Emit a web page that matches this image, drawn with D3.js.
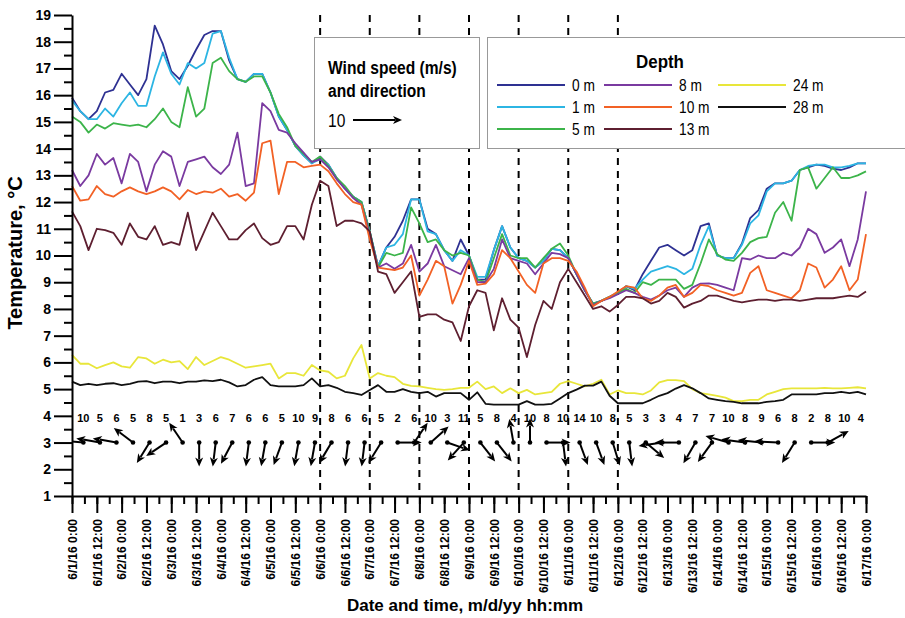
<!DOCTYPE html>
<html>
<head>
<meta charset="utf-8">
<script src="https://cdn.jsdelivr.net/npm/d3@7"></script>
<style>
  body { margin: 0; background: #fff; }
  svg { font-family: "Liberation Sans", Arial, sans-serif; }
</style>
</head>
<body>
<div id="chart"></div>
<script>
// water temperature, one reading every 4 hours from 6/1/16 0:00 to 6/17/16 0:00
const hours = d3.range(0, 385, 4)

const t0m = [15.9, 15.4, 15.1, 15.4, 16.1, 16.2, 16.8, 16.4, 16.0, 16.6,
  18.6, 17.9, 16.9, 16.6, 17.1, 17.7, 18.25, 18.4, 18.4, 17.3,
  16.6, 16.5, 16.8, 16.8, 16.1, 15.2, 14.7, 14.1, 13.75, 13.45,
  13.7, 13.4, 12.9, 12.5, 12.2, 12.0, 10.9, 9.6, 10.3, 10.7,
  11.3, 12.1, 12.1, 11.0, 10.8, 10.2, 9.8, 10.6, 10.0, 9.1,
  9.1, 10.2, 11.1, 10.3, 9.9, 9.8, 9.55, 9.8, 10.25, 10.2,
  9.9, 9.3, 8.7, 8.2, 8.3, 8.45, 8.6, 8.85, 8.7, 9.3,
  9.8, 10.3, 10.4, 10.2, 10.0, 10.2, 11.1, 11.2, 10.0, 9.9,
  9.9, 10.45, 11.4, 11.7, 12.5, 12.7, 12.7, 12.8, 13.2, 13.3,
  13.4, 13.35, 13.25, 13.2, 13.3, 13.45, 13.45]
const t1m = [15.8, 15.4, 15.1, 15.1, 15.5, 15.2, 15.7, 16.1, 15.6, 15.6,
  16.7, 17.6, 16.8, 16.4, 17.2, 17.0, 17.2, 18.3, 18.4, 17.4,
  16.6, 16.5, 16.8, 16.8, 16.1, 15.2, 14.7, 14.1, 13.75, 13.45,
  13.6, 13.4, 12.9, 12.5, 12.2, 12.0, 10.9, 9.6, 10.3, 10.4,
  10.8, 12.1, 12.1, 10.9, 10.8, 10.2, 9.8, 10.2, 10.0, 9.2,
  9.2, 10.2, 11.1, 10.3, 9.9, 9.8, 9.55, 9.8, 10.25, 10.2,
  9.9, 9.3, 8.7, 8.2, 8.3, 8.45, 8.6, 8.85, 8.75, 9.1,
  9.4, 9.5, 9.6, 9.5, 9.3, 9.5, 10.4, 11.1, 10.0, 9.9,
  9.9, 10.4, 11.2, 11.5, 12.4, 12.7, 12.7, 12.8, 13.2, 13.35,
  13.4, 13.4, 13.3, 13.3, 13.35, 13.45, 13.45]
const t5m = [15.2, 15.0, 14.6, 14.9, 14.75, 14.95, 14.9, 14.85, 14.9, 14.8,
  15.1, 15.5, 15.0, 14.8, 16.3, 15.2, 15.5, 17.2, 17.4, 16.9,
  16.6, 16.5, 16.7, 16.7, 16.1, 15.3, 14.8, 14.1, 13.8, 13.5,
  13.7, 13.35, 12.9, 12.6, 12.2, 12.0, 10.9, 9.55, 10.1, 10.0,
  10.1, 11.8, 11.2, 10.5, 10.6, 10.2, 10.0, 10.1, 10.0, 9.1,
  9.0, 9.9, 10.8, 10.0, 9.9, 9.9, 9.55, 9.9, 10.25, 10.45,
  10.0, 9.3, 8.7, 8.2, 8.3, 8.45, 8.6, 8.75, 8.6, 9.0,
  8.9, 9.1, 9.1, 9.1, 8.75, 8.9, 9.7, 10.6, 10.05, 9.85,
  9.8, 10.1, 10.5, 10.65, 10.7, 11.6, 12.0, 11.3, 13.2, 13.3,
  12.5, 12.9, 13.3, 12.9, 12.9, 13.0, 13.15]
const t8m = [13.2, 12.6, 13.0, 13.8, 13.4, 13.65, 12.7, 13.8, 13.5, 12.4,
  13.4, 13.9, 13.7, 12.6, 13.5, 13.6, 13.7, 13.3, 13.05, 13.4,
  14.6, 12.6, 12.7, 15.7, 15.4, 14.7, 14.6, 14.2, 13.85, 13.5,
  13.6, 13.3, 12.85, 12.5, 12.15, 11.9, 10.8, 9.55, 9.7, 9.5,
  9.7, 10.4, 9.4, 9.7, 10.4, 9.6, 9.45, 9.3, 9.9, 9.0,
  9.0, 9.5, 10.6, 9.9, 9.8, 9.7, 9.3, 9.7, 10.1, 10.05,
  9.9, 9.3, 8.7, 8.15, 8.3, 8.4, 8.55, 8.7, 8.6, 8.45,
  8.35, 8.5, 8.7, 8.8, 8.45, 8.8, 8.95, 8.96, 8.9, 8.8,
  8.7, 9.9, 9.85, 10.0, 9.9, 9.9, 10.1, 10.0, 10.3, 11.0,
  10.8, 10.1, 10.3, 10.6, 9.6, 10.6, 12.4]
const t10m = [12.6, 12.05, 12.1, 12.6, 12.3, 12.2, 12.4, 12.55, 12.4, 12.3,
  12.4, 12.55, 12.4, 12.1, 12.45, 12.3, 12.4, 12.35, 12.5, 12.2,
  12.3, 12.05, 12.35, 14.2, 14.3, 12.3, 13.5, 13.5, 13.3, 13.35,
  13.4, 13.15, 12.7, 12.3, 12.0, 11.9, 10.6, 9.55, 9.5, 9.45,
  9.55, 10.0, 8.5, 9.1, 9.8, 9.6, 8.2, 8.9, 9.8, 8.9,
  8.95, 9.3, 10.2, 9.9, 9.4, 8.9, 8.6, 9.7, 9.9, 9.9,
  9.8, 9.4, 8.8, 8.1, 8.3, 8.45, 8.65, 8.85, 8.8, 8.4,
  8.3, 8.5, 8.8, 8.9, 8.45, 8.6, 8.9, 8.85, 8.7, 8.6,
  8.5, 8.6, 9.35, 9.6, 8.7, 8.6, 8.5, 8.4, 8.7, 9.7,
  9.55, 8.8, 9.1, 9.6, 8.7, 9.1, 10.8]
const t13m = [11.65, 11.1, 10.2, 11.0, 10.95, 10.85, 10.4, 11.2, 10.7, 10.6,
  11.1, 10.4, 10.5, 10.4, 11.6, 10.2, 10.9, 11.6, 11.1, 10.6,
  10.6, 10.95, 11.2, 10.65, 10.4, 10.5, 11.1, 11.1, 10.6, 11.9,
  12.8, 12.6, 11.1, 11.3, 11.3, 11.2, 10.9, 9.4, 9.3, 8.6,
  9.0, 9.4, 7.7, 7.8, 7.8, 7.6, 7.5, 6.8, 8.1, 8.7,
  8.6, 7.2, 8.4, 7.6, 7.3, 6.2, 7.4, 8.3, 8.0, 9.0,
  9.5, 9.0, 8.5, 8.0, 8.1, 7.9, 8.15, 8.45, 8.45, 8.4,
  8.2, 8.3, 8.6, 8.45, 8.05, 8.2, 8.3, 8.5, 8.5, 8.4,
  8.3, 8.25, 8.3, 8.35, 8.35, 8.3, 8.35, 8.35, 8.3, 8.35,
  8.4, 8.4, 8.4, 8.45, 8.5, 8.45, 8.65]
const t24m = [6.28, 5.95, 5.95, 5.78, 5.9, 6.0, 5.85, 5.8, 6.2, 6.15,
  5.95, 6.1, 6.0, 6.05, 5.75, 6.2, 5.9, 6.05, 6.2, 6.1,
  5.95, 5.8, 5.85, 5.9, 5.95, 5.4, 5.6, 5.6, 5.5, 5.9,
  5.7, 5.65, 5.4, 5.5, 6.15, 6.65, 5.4, 5.6, 5.5, 5.45,
  5.2, 5.12, 5.1, 5.05, 5.0, 4.97, 5.0, 5.05, 5.05, 5.28,
  5.0, 5.1, 4.85, 5.03, 4.85, 4.97, 4.8, 4.85, 4.9, 5.2,
  5.3, 5.2, 5.1, 5.2, 5.35, 4.8, 4.95, 4.85, 4.85, 4.8,
  4.95, 5.25, 5.34, 5.34, 5.3, 5.0, 4.85, 4.8, 4.75, 4.68,
  4.55, 4.55, 4.6, 4.6, 4.8, 4.9, 5.0, 5.03, 5.03, 5.03,
  5.03, 5.05, 5.03, 5.03, 5.05, 5.07, 5.03]
const t28m = [5.28, 5.15, 5.2, 5.15, 5.2, 5.22, 5.15, 5.2, 5.28, 5.3,
  5.22, 5.28, 5.28, 5.22, 5.28, 5.28, 5.33, 5.3, 5.35, 5.25,
  5.1, 5.15, 5.35, 5.45, 5.15, 5.1, 5.1, 5.1, 5.15, 5.4,
  5.1, 5.15, 5.05, 4.9, 4.85, 4.78, 4.97, 5.15, 4.9, 4.9,
  5.0, 4.9, 4.85, 4.9, 4.72, 4.85, 4.85, 4.85, 4.6, 4.88,
  4.45, 4.42, 4.42, 4.42, 4.42, 4.55, 4.42, 4.42, 4.45, 4.65,
  4.85, 4.98, 5.13, 5.13, 5.28, 4.75, 4.47, 4.47, 4.47, 4.47,
  4.6, 4.75, 4.85, 5.02, 5.15, 5.03, 4.85, 4.65, 4.6, 4.55,
  4.52, 4.47, 4.47, 4.47, 4.52, 4.55, 4.6, 4.8, 4.8, 4.8,
  4.8, 4.85, 4.85, 4.9, 4.85, 4.9, 4.8]

const depths = ['0 m', '1 m', '5 m', '8 m', '10 m', '13 m', '24 m', '28 m']
const colors = ['#2e3192', '#2cb5e3', '#3cb44a', '#7a3aa0', '#f26125', '#5e1f30', '#e8e63a', '#111111']
const series = [t0m, t1m, t5m, t8m, t10m, t13m, t24m, t28m]

// wind every 8 hours: speed in m/s, direction the wind blows towards (deg, 0 = up)
const windHours = d3.range(5.5, 384, 8)
const windSpeed = [10, 5, 6, 5, 8, 5, 1, 3, 6, 7, 6, 6, 5, 10, 9, 8, 6, 6, 5, 2, 6, 10, 3, 11,
  5, 8, 4, 10, 8, 10, 14, 10, 8, 5, 3, 3, 4, 7, 7, 10, 8, 9, 6, 8, 2, 8, 10, 4]
const windDir = [275, 280, 280, 307, 212, 236, 326, 180, 187, 208, 187, 190, 200, 190, 190, 211,
  187, 187, 212, 90, 34, 48, 109, 222, 142, 142, 350, 0, 90, 173, 160, 160,
  163, 173, 130, 262, 270, 210, 216, 286, 278, 276, 273, 212, 90, 61, null, null]

const markedDays = [6, 7, 8, 9, 10, 11, 12]
const yTicks = d3.range(1, 20)
const yMinor = d3.range(1.5, 19, 1)

const start = new Date(2016, 5, 1)
const at = h => new Date(start.getTime() + h * 36e5)

const x = d3.scaleTime().domain([start, at(384)]).range([72, 866])
const y = d3.scaleLinear().domain([1, 19]).range([496, 15])

const svg = d3.select('#chart').append('svg')
  .attr('width', 905)
  .attr('height', 618)

svg.append('clipPath').attr('id', 'plot')
  .append('rect')
  .attr('x', 72).attr('y', 0).attr('width', 794).attr('height', 496)

// dashed day markers
svg.append('g')
  .selectAll('line')
  .data(markedDays)
  .join('line')
  .attr('x1', d => x(new Date(2016, 5, d)))
  .attr('x2', d => x(new Date(2016, 5, d)))
  .attr('y1', y(19))
  .attr('y2', y(1))
  .attr('stroke', '#000')
  .attr('stroke-width', 2)
  .attr('stroke-dasharray', '7,6')

const line = d3.line()
  .x((d, i) => x(at(hours[i])))
  .y(d => y(d))

svg.append('g')
  .selectAll('path')
  .data(series)
  .join('path')
  .attr('d', line)
  .attr('fill', 'none')
  .attr('stroke', (d, i) => colors[i])
  .attr('stroke-width', 1.8)
  .attr('stroke-linejoin', 'round')

// arrow from a tail point, screen length len, direction deg
const arrow = (g, x0, y0, deg, len) => {
  const a = deg * Math.PI / 180
  const ux = Math.sin(a), uy = -Math.cos(a)
  const tx = x0 + ux * len, ty = y0 + uy * len
  const bx = tx - ux * 9, by = ty - uy * 9
  g.append('line')
    .attr('x1', x0).attr('y1', y0)
    .attr('x2', bx + ux * 2).attr('y2', by + uy * 2)
    .attr('stroke', '#000')
    .attr('stroke-width', 2)
  g.append('path')
    .attr('d', `M${tx},${ty}L${bx - uy * 4},${by + ux * 4}L${bx + ux * 2.5},${by + uy * 2.5}L${bx + uy * 4},${by - ux * 4}Z`)
    .attr('fill', '#000')
}

const windData = windHours.map((h, i) => ({ h, speed: windSpeed[i], dir: windDir[i] }))
const wind = svg.append('g').attr('clip-path', 'url(#plot)')

wind.selectAll('text')
  .data(windData)
  .join('text')
  .attr('x', d => x(at(d.h)))
  .attr('y', 422)
  .attr('text-anchor', 'middle')
  .attr('font-size', 11)
  .attr('font-weight', 'bold')
  .text(d => d.speed)

windData.filter(d => d.dir !== null).forEach(d => {
  const g = wind.append('g')
  arrow(g, x(at(d.h)), y(3), d.dir, 24)
  g.append('circle')
    .attr('cx', x(at(d.h)))
    .attr('cy', y(3))
    .attr('r', 2.3)
})

// axes
const yAxis = svg.append('g')
  .attr('transform', 'translate(72,0)')
  .call(d3.axisLeft(y).tickValues(yTicks).tickSize(18).tickSizeOuter(0).tickPadding(3).tickFormat(d3.format('d')))
yAxis.append('g')
  .call(d3.axisLeft(y).tickValues(yMinor).tickSize(8).tickFormat(''))
  .call(g => g.select('.domain').remove())

const xAxis = svg.append('g')
  .attr('transform', 'translate(0,496)')
  .call(d3.axisBottom(x).ticks(d3.timeHour.every(12)).tickSize(17).tickSizeOuter(0)
    .tickFormat(d3.timeFormat('%-m/%-d/%y %-H:%M')))
xAxis.append('g')
  .call(d3.axisBottom(x).ticks(d3.timeHour.every(6)).tickSize(8).tickFormat(''))
  .call(g => g.select('.domain').remove())
xAxis.selectAll('text')
  .attr('transform', 'rotate(-90)')
  .attr('text-anchor', 'end')
  .attr('x', -23)
  .attr('y', 0)
  .attr('dy', '0.35em')

svg.selectAll('.domain, .tick line').attr('stroke', '#000').attr('stroke-width', 2)
svg.selectAll('.tick text')
  .attr('fill', '#000')
  .attr('font-family', '"Liberation Sans", Arial, sans-serif')
  .attr('font-weight', 'bold')
  .attr('font-size', 12)
yAxis.selectAll('.tick text').attr('font-size', 14)

svg.append('text')
  .attr('transform', 'translate(22,253) rotate(-90)')
  .attr('text-anchor', 'middle')
  .attr('font-size', 20)
  .attr('font-weight', 'bold')
  .text('Temperature, °C')

svg.append('text')
  .attr('x', 465)
  .attr('y', 611)
  .attr('text-anchor', 'middle')
  .attr('font-size', 17)
  .attr('font-weight', 'bold')
  .text('Date and time, m/d/yy hh:mm')

// narrow legend text
const narrow = (g, str, tx, ty, size, weight, sx, anchor) => g.append('text')
  .attr('transform', `translate(${tx},${ty}) scale(${sx},1)`)
  .attr('text-anchor', anchor || 'start')
  .attr('font-size', size)
  .attr('font-weight', weight)
  .text(str)

// wind legend
const wl = svg.append('g')
wl.append('rect')
  .attr('x', 314.5).attr('y', 37.5).attr('width', 165).attr('height', 111)
  .attr('fill', '#fff').attr('stroke', '#999')
narrow(wl, 'Wind speed (m/s)', 328, 74, 19, 'bold', 0.82)
narrow(wl, 'and direction', 328, 97, 19, 'bold', 0.82)
narrow(wl, '10', 328, 127, 19, 'normal', 0.82)
arrow(wl, 353, 120, 90, 49)

// depth legend
const dl = svg.append('g')
dl.append('rect')
  .attr('x', 487.5).attr('y', 37.5).attr('width', 420).attr('height', 111)
  .attr('fill', '#fff').attr('stroke', '#999')
narrow(dl, 'Depth', 660, 68, 18, 'bold', 0.94, 'middle')

const colX = [497, 604, 718]
const rowY = [85, 107, 129]
depths.forEach((name, i) => {
  const c = Math.floor(i / 3), r = i % 3
  dl.append('line')
    .attr('x1', colX[c]).attr('x2', colX[c] + 68)
    .attr('y1', rowY[r]).attr('y2', rowY[r])
    .attr('stroke', colors[i])
    .attr('stroke-width', 1.8)
  narrow(dl, name, colX[c] + 75, rowY[r] + 6, 16, 'normal', 0.86)
})
</script>
</body>
</html>
